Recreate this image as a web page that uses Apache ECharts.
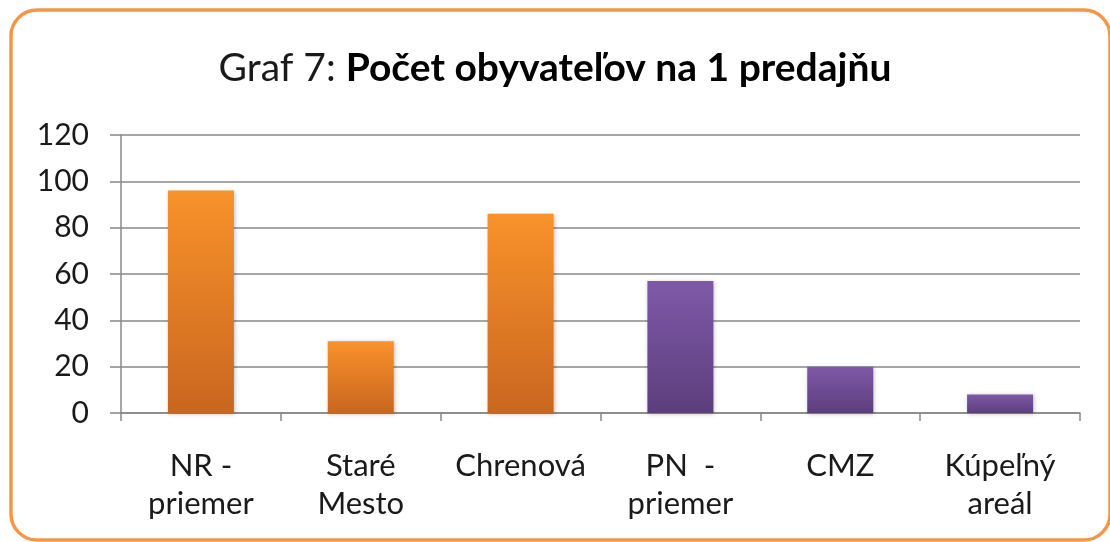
<!DOCTYPE html>
<html>
<head>
<meta charset="utf-8">
<script src="https://cdn.jsdelivr.net/npm/echarts@6/dist/echarts.min.js"></script>
<style>
  html, body { margin: 0; padding: 0; background: #ffffff; }
  #chart { width: 1110px; height: 542px; }
</style>
</head>
<body>
<div id="chart"></div>
<script>
// Inhabitants per one shop, by area
const categories = ['NR -\npriemer', 'Staré\nMesto', 'Chrenová', 'PN  -\npriemer', 'CMZ', 'Kúpeľný\nareál'];
const values = [96, 31, 86, 57, 20, 8];
const town = ['NR', 'NR', 'NR', 'PN', 'PN', 'PN'];
const yTicks = [0, 20, 40, 60, 80, 100, 120];

const FONT = 'Lato';
const gradients = {
  NR: new echarts.graphic.LinearGradient(0, 0, 0, 1, [
    { offset: 0, color: '#F8922A' },
    { offset: 1, color: '#C9661F' }
  ]),
  PN: new echarts.graphic.LinearGradient(0, 0, 0, 1, [
    { offset: 0, color: '#7F59A8' },
    { offset: 1, color: '#5C3E7C' }
  ])
};

const chart = echarts.init(document.getElementById('chart'), null, { renderer: 'canvas' });

chart.setOption({
  animation: false,
  backgroundColor: '#ffffff',
  graphic: [{
    type: 'rect',
    shape: { x: 11, y: 10, width: 1099, height: 530, r: 26 },
    style: { fill: 'none', stroke: '#F79646', lineWidth: 3.5 },
    z: 100
  }],
  title: {
    text: '{a|Graf 7: }{b|Počet obyvateľov na 1 predajňu}',
    left: 'center',
    top: 44,
    textStyle: {
      rich: {
        a: { fontFamily: FONT, fontSize: 39, color: '#1a1a1a', fontWeight: 'normal' },
        b: { fontFamily: FONT, fontSize: 39, color: '#000000', fontWeight: 'bold' }
      }
    }
  },
  grid: { left: 121, right: 30, top: 135, bottom: 129 },
  xAxis: {
    type: 'category',
    data: categories,
    boundaryGap: true,
    axisLine: { lineStyle: { color: '#888888', width: 1.5 } },
    axisTick: { show: true, length: 8, alignWithLabel: false, lineStyle: { color: '#888888', width: 1.5 } },
    axisLabel: {
      interval: 0,
      margin: 34,
      fontFamily: FONT,
      fontSize: 31,
      lineHeight: 38,
      color: '#1a1a1a'
    }
  },
  yAxis: {
    type: 'value',
    min: yTicks[0],
    max: yTicks[yTicks.length - 1],
    interval: yTicks[1] - yTicks[0],
    axisLine: { show: true, lineStyle: { color: '#888888', width: 1.5 } },
    axisTick: { show: true, length: 11, lineStyle: { color: '#888888', width: 1.5 } },
    splitLine: { lineStyle: { color: '#888888', width: 1.5 } },
    axisLabel: {
      margin: 32,
      fontFamily: FONT,
      fontSize: 30,
      color: '#1a1a1a'
    }
  },
  series: [{
    type: 'bar',
    barWidth: 66,
    data: values.map((v, i) => ({
      value: v,
      itemStyle: { color: gradients[town[i]] }
    })),
    itemStyle: {
      shadowBlur: 4,
      shadowColor: 'rgba(0,0,0,0.25)',
      shadowOffsetX: 1,
      shadowOffsetY: 1
    }
  }]
});
</script>
</body>
</html>
